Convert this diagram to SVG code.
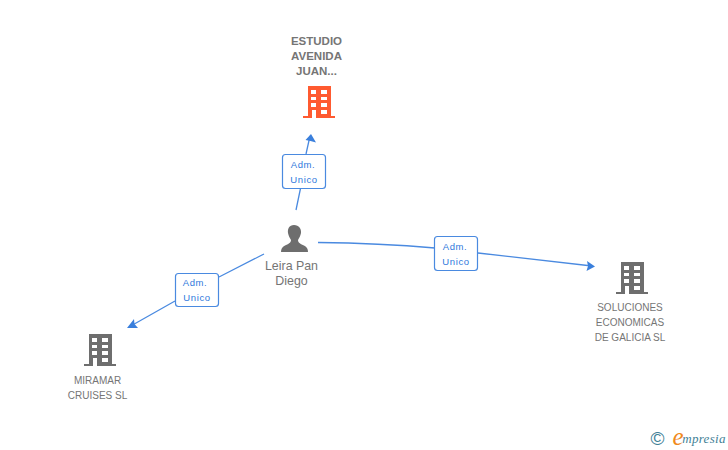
<svg xmlns="http://www.w3.org/2000/svg" width="728" height="450" viewBox="0 0 728 450">
<style>
text{font-family:"Liberation Sans",Arial,sans-serif;fill:#757575;font-size:10px;text-anchor:middle}
.b{font-weight:bold;font-size:11.5px}
.p{font-size:12.4px}
.e{fill:#fff;stroke:#4a8ae0;stroke-width:1.2}
.t{fill:#2f78dc;font-size:9.5px;letter-spacing:.6px}
.c{fill:none;stroke:#4a8ae0;stroke-width:1.3}
.h{fill:#3a7fdc}
</style>
<defs>
<path id="bld" fill-rule="evenodd" d="M-16 32V30H-11V0H12V30H16V32Z M-8 4V8H-3V4Z M2 4V8H8V4Z M-8 11V14H-3V11Z M2 11V14H8V11Z M-8 17V21H-3V17Z M2 17V21H8V17Z M-7 24V32H-3V24Z M2 24V28H8V24Z"/>
</defs>
<g id="connectors">
<path class="c" d="M296 210L301 186M306 154L310 136"/>
<path class="h" d="M311 134L316 142.500L310.500 141L305.500 140Z"/>
<path class="c" d="M264 254L219 277M175 301L129 327"/>
<path class="h" d="M127 328L134 319L134.500 324L138 328Z"/>
<path class="c" d="M318 242.500C360 243 400 245 435 248M478 253L592 266"/>
<path class="h" d="M595 266.500L587 261L588 266L586.500 271Z"/>
</g>
<g id="label-1"><rect class="e" x="282.500" y="154.500" width="43" height="34" rx="3"/><text class="t" x="303" y="168">Adm.</text><text class="t" x="304" y="183">Unico</text></g>
<g id="label-2"><rect class="e" x="175.500" y="273.500" width="43" height="33" rx="3"/><text class="t" x="195" y="286">Adm.</text><text class="t" x="197" y="301">Unico</text></g>
<g id="label-3"><rect class="e" x="434.500" y="236.500" width="43" height="34" rx="3"/><text class="t" x="455" y="250">Adm.</text><text class="t" x="456" y="265">Unico</text></g>
<g id="node-estudio">
<use href="#bld" x="319" y="86" fill="#ff5a30"/>
<text class="b" x="316.500" y="45">ESTUDIO</text><text class="b" x="316.500" y="60">AVENIDA</text><text class="b" x="316.500" y="75">JUAN...</text>
</g>
<g id="node-leira">
<path fill="#6e6e6e" d="M294 225C289 225 287.500 229 288 233C288.500 236 290 238 291 240C291 243 288 244 285 245.500C282 247 281 249 281 252H308C308 249 307 247 304 245.500C301 244 298 243 298 240C299 238 300.500 236 301 233C301.500 229 299 225 294 225Z"/>
<text class="p" x="291.500" y="270">Leira Pan</text><text class="p" x="291.500" y="285">Diego</text>
</g>
<g id="node-miramar">
<use href="#bld" x="100" y="334" fill="#6e6e6e"/>
<text x="97.500" y="384">MIRAMAR</text><text x="97.500" y="399">CRUISES SL</text>
</g>
<g id="node-soluciones">
<use href="#bld" x="632" y="262" fill="#6e6e6e"/>
<text x="630" y="311">SOLUCIONES</text><text x="630" y="326">ECONOMICAS</text><text x="630" y="341">DE GALICIA SL</text>
</g>
<g id="logo">
<text x="657.500" y="445" style="font-size:19px;fill:#3f7f96">©</text>
<text x="678" y="445" style="font-family:'Liberation Serif',serif;font-style:italic;font-size:25px;fill:#f08a1d">e</text>
<text x="704" y="443" style="font-family:'Liberation Serif',serif;font-style:italic;font-size:13px;fill:#3f7f96;letter-spacing:.3px">mpresia</text>
</g>
</svg>
